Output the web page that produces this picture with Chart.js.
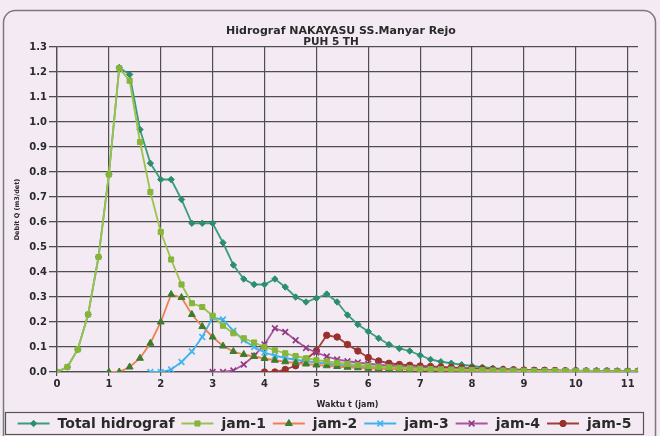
<!DOCTYPE html>
<html><head><meta charset="utf-8">
<script src="https://cdn.jsdelivr.net/npm/chart.js@4.4.0/dist/chart.umd.min.js"></script>
<style>html,body{margin:0;padding:0;background:#f4eaf3;}</style>
</head><body>
<canvas id="c" width="660" height="436"></canvas>
<script>
// ---- data ----
const titleLines = ['Hidrograf NAKAYASU SS.Manyar Rejo', 'PUH 5 TH'];
const xTitle = 'Waktu t (jam)';
const yTitle = 'Debit Q (m3/det)';
const seriesNames = ['Total hidrograf', 'jam-1', 'jam-2', 'jam-3', 'jam-4', 'jam-5'];
const xTicks = [0,1,2,3,4,5,6,7,8,9,10,11];
const yTicks = [0,0.1,0.2,0.3,0.4,0.5,0.6,0.7,0.8,0.9,1.0,1.1,1.2,1.3];
const hours = [0,0.2,0.4,0.6,0.8,1.0,1.2,1.4,1.6,1.8,2.0,2.2,2.4,2.6,2.8,3.0,3.2,3.4,3.6,3.8,4.0,4.2,4.4,4.6,4.8,5.0,5.2,5.4,5.6,5.8,6.0,6.2,6.4,6.6,6.8,7.0,7.2,7.4,7.6,7.8,8.0,8.2,8.4,8.6,8.8,9.0,9.2,9.4,9.6,9.8,10.0,10.2,10.4,10.6,10.8,11.0,11.2];
const totalHidrograf = [0,0.02,0.09,0.23,0.46,0.79,1.218,1.19,0.97,0.835,0.77,0.77,0.69,0.595,0.595,0.595,0.517,0.428,0.372,0.35,0.35,0.372,0.34,0.30,0.28,0.295,0.312,0.28,0.228,0.19,0.162,0.135,0.11,0.094,0.084,0.067,0.05,0.041,0.035,0.029,0.024,0.019,0.015,0.012,0.01,0.008,0.007,0.006,0.005,0.005,0.004,0.004,0.003,0.003,0.003,0.002,0.002];
const jam1 = [0,0.02,0.09,0.23,0.46,0.79,1.215,1.165,0.92,0.72,0.56,0.45,0.35,0.275,0.26,0.225,0.185,0.155,0.135,0.118,0.1,0.087,0.075,0.064,0.055,0.048,0.042,0.037,0.032,0.028,0.024,0.021,0.019,0.017,0.015,0.013,0.012,0.011,0.01,0.009,0.008,0.007,0.006,0.006,0.005,0.005,0.004,0.004,0.004,0.003,0.003,0.003,0.002,0.002,0.002,0.002,0.002];
const jam2 = [null,null,null,null,null,0,0,0.02,0.055,0.115,0.2,0.31,0.298,0.23,0.182,0.14,0.104,0.082,0.07,0.062,0.054,0.047,0.041,0.036,0.032,0.028,0.025,0.022,0.019,0.017,0.015,0.013,0.012,0.011,0.01,0.009,0.008,0.007,0.006,0.006,0.005,0.005,0.004,0.004,0.003,0.003,0.003,0.003,0.002,0.002,0.002,0.002,0.002,0.001,0.001,0.001,0.001];
const jam3 = [null,null,null,null,null,null,null,null,null,0,0,0.01,0.04,0.082,0.14,0.218,0.21,0.165,0.127,0.1,0.078,0.065,0.056,0.049,0.043,0.038,0.033,0.029,0.025,0.022,0.019,0.017,0.015,0.013,0.012,0.011,0.01,0.009,0.008,0.007,0.006,0.005,0.005,0.004,0.004,0.003,0.003,0.003,0.002,0.002,0.002,0.002,0.002,0.001,0.001,0.001,0.001];
const jam4 = [null,null,null,null,null,null,null,null,null,null,null,null,null,null,null,0,0,0.006,0.03,0.065,0.11,0.175,0.16,0.127,0.096,0.078,0.062,0.05,0.043,0.038,0.033,0.029,0.025,0.022,0.019,0.017,0.015,0.013,0.012,0.01,0.009,0.008,0.007,0.006,0.006,0.005,0.005,0.004,0.004,0.003,0.003,0.003,0.002,0.002,0.002,0.002,0.002];
const jam5 = [null,null,null,null,null,null,null,null,null,null,null,null,null,null,null,null,null,null,null,null,0,0,0.01,0.025,0.05,0.085,0.147,0.14,0.11,0.084,0.058,0.044,0.035,0.03,0.027,0.024,0.022,0.02,0.018,0.016,0.014,0.013,0.011,0.01,0.009,0.008,0.007,0.007,0.006,0.005,0.005,0.004,0.004,0.004,0.003,0.003,0.003];

// ---- styles ----
const FONT = 'DejaVu Sans';
const TEXT = '#2a2a2a';
const GRID = '#4f4f4f';
const styles = [
  {line:'#3a9e7c', fill:'#2c8e6c', pointStyle:'rectRot', radius:3.2, order:1},
  {line:'#9cc24c', fill:'#86b53a', pointStyle:'rect', radius:3.6, order:0},
  {line:'#f08050', fill:'#3d7d2e', pointStyle:'triangle', radius:4, order:0},
  {line:'#3db5ec', fill:'#3db5ec', pointStyle:'crossRot', radius:4, order:0},
  {line:'#a9569c', fill:'#8c3a80', pointStyle:'crossRot', radius:4, order:0},
  {line:'#a63c36', fill:'#9a302b', pointStyle:'circle', radius:3.2, order:0}
];
const seriesValues = [totalHidrograf, jam1, jam2, jam3, jam4, jam5];

const datasets = seriesValues.map((vals, k) => ({
  label: seriesNames[k],
  data: hours.map((h, i) => ({x: h, y: vals[i]})),
  borderColor: styles[k].line,
  backgroundColor: styles[k].fill,
  borderWidth: 1.8,
  pointStyle: styles[k].pointStyle,
  pointRadius: styles[k].radius,
  pointBackgroundColor: styles[k].fill,
  pointBorderColor: styles[k].fill,
  pointBorderWidth: styles[k].pointStyle.startsWith('cross') ? 1.6 : 1,
  tension: 0,
  spanGaps: false,
  order: styles[k].order
}));

const decor = {
  id: 'decor',
  beforeDraw(chart) {
    const ctx = chart.ctx;
    ctx.save();
    ctx.fillStyle = '#f4eaf3';
    ctx.fillRect(0, 0, chart.width, chart.height);
    // outer rounded frame
    ctx.strokeStyle = '#7a7a7a';
    ctx.lineWidth = 1.5;
    ctx.beginPath();
    ctx.roundRect(3.5, 10.5, 652, 440, 12);
    ctx.stroke();
    ctx.restore();
  },
  afterDraw(chart) {
    const ctx = chart.ctx;
    ctx.save();
    ctx.fillStyle = TEXT;
    ctx.textBaseline = 'middle';
    ctx.textAlign = 'center';
    ctx.font = 'bold 11px "' + FONT + '"';
    ctx.fillText(titleLines[0], 341, 31);
    ctx.font = 'bold 10.5px "' + FONT + '"';
    ctx.fillText(titleLines[1], 331, 42);

    // legend box
    const boxL = 5.5, boxR = 643.5, boxT = 412.5, boxB = 434.5;
    ctx.strokeStyle = '#555';
    ctx.lineWidth = 1.2;
    ctx.strokeRect(boxL, boxT, boxR - boxL, boxB - boxT);
    ctx.font = 'bold 14px "' + FONT + '"';
    ctx.textAlign = 'left';
    const lineLen = 32, gapText = 8, gapItem = 7;
    const widths = seriesNames.map(n => ctx.measureText(n).width);
    let total = 0;
    widths.forEach(w => total += lineLen + gapText + w);
    total += gapItem * (seriesNames.length - 1);
    let x = (boxL + boxR) / 2 - total / 2;
    const y = 423.5;
    seriesNames.forEach((n, k) => {
      const st = styles[k];
      ctx.strokeStyle = st.line;
      ctx.lineWidth = 1.8;
      ctx.beginPath();
      ctx.moveTo(x, y); ctx.lineTo(x + lineLen, y);
      ctx.stroke();
      ctx.fillStyle = st.fill;
      ctx.strokeStyle = st.fill;
      ctx.lineWidth = st.pointStyle.startsWith('cross') ? 1.6 : 1;
      Chart.helpers.drawPoint(ctx, {pointStyle: st.pointStyle, radius: st.radius, rotation: 0, borderWidth: ctx.lineWidth}, x + lineLen / 2, y);
      ctx.fillStyle = TEXT;
      ctx.fillText(n, x + lineLen + gapText, y + 0.5);
      x += lineLen + gapText + widths[k] + gapItem;
    });
    ctx.restore();
  }
};

new Chart(document.getElementById('c'), {
  type: 'line',
  data: { datasets },
  options: {
    responsive: false,
    animation: false,
    devicePixelRatio: 1,
    layout: { padding: { left: 9, right: 22, top: 47, bottom: 22 } },
    plugins: { legend: { display: false }, tooltip: { enabled: false }, title: { display: false } },
    scales: {
      x: {
        type: 'linear', min: 0, max: 11.2,
        afterBuildTicks: s => { s.ticks = xTicks.map(v => ({value: v})); },
        afterFit: s => { s.height = 42; },
        ticks: { font: { family: FONT, weight: 'bold', size: 10 }, color: TEXT, padding: 2, maxRotation: 0, autoSkip: false, callback: v => String(v) },
        grid: { color: GRID, lineWidth: 1.2, tickLength: 4 },
        border: { color: GRID, width: 1.2 },
        title: { display: true, text: xTitle, color: TEXT, font: { family: FONT, weight: 'bold', size: 8 }, padding: { top: 0, bottom: 4 } }
      },
      y: {
        min: 0, max: 1.3,
        afterBuildTicks: s => { s.ticks = yTicks.map(v => ({value: v})); },
        afterFit: s => { s.width = 48; },
        ticks: { font: { family: FONT, weight: 'bold', size: 10 }, color: TEXT, padding: 2, autoSkip: false, callback: v => Number(v).toFixed(1) },
        grid: { color: GRID, lineWidth: 1.3, tickLength: 8 },
        border: { color: GRID, width: 1.3 },
        title: { display: true, text: yTitle, color: TEXT, font: { family: FONT, weight: 'bold', size: 6.5 }, padding: { top: 4, bottom: 2 } }
      }
    }
  },
  plugins: [decor]
});
</script>
</body></html>
